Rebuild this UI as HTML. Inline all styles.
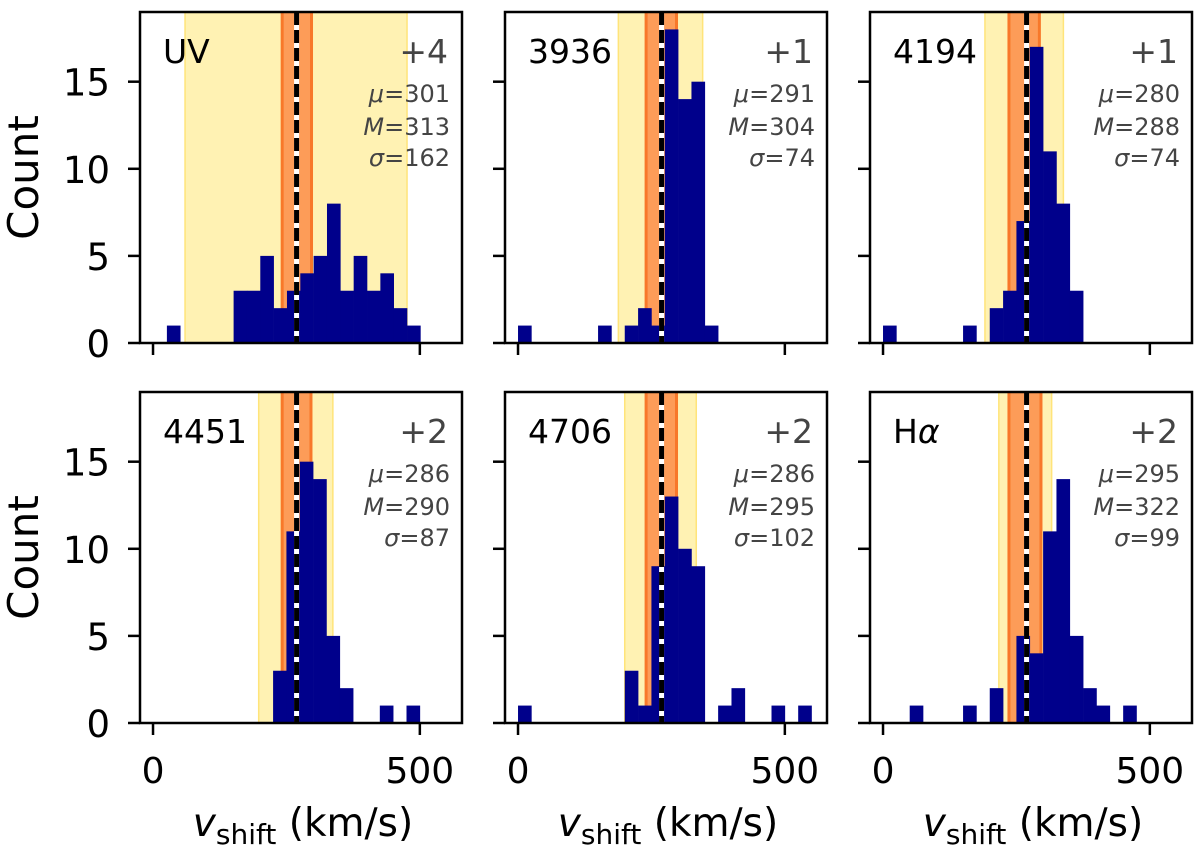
<!DOCTYPE html>
<html><head><meta charset="utf-8"><style>
html,body{margin:0;padding:0;background:#fff}
svg{display:block}
text{font-family:"DejaVu Sans","Liberation Sans",sans-serif}
</style></head><body>
<svg id="fig" width="1200" height="857" viewBox="0 0 1200 857" xmlns="http://www.w3.org/2000/svg"></svg>
<script>
// ---- data ----
const panelNames = ["UV","3936","4194","4451","4706","Hα"];
const offsets = ["+4","+1","+1","+2","+2","+2"];
const means = [301,291,280,286,286,295];
const medians = [313,304,288,290,295,322];
const sigmas = [162,74,74,87,102,99];
const binStarts = [26,0,0,0,0,0];
const binWidth = 25;
const countsUV   = [1,0,0,0,0,3,3,5,2,3,4,5,8,3,5,3,4,2,1];
const counts3936 = [1,0,0,0,0,0,1,0,1,2,1,18,14,15,1];
const counts4194 = [1,0,0,0,0,0,1,0,2,3,7,17,11,8,3];
const counts4451 = [0,0,0,0,0,0,0,0,0,3,11,15,14,5,2,0,0,1,0,1];
const counts4706 = [1,0,0,0,0,0,0,0,3,1,9,13,10,9,0,1,2,0,0,1,0,1];
const countsHa   = [0,0,1,0,0,0,1,0,2,0,5,4,11,14,5,2,1,0,1];
const yellowLo = [60,188,191,198,200,217];
const yellowHi = [476,346,338,337,334,316];
const orangeLo = [242,240,236,242,240,236];
const orangeHi = [297,297,293,296,297,296];
const refLine = 269;
const xTicks = [0,500];
const yTicks = [0,5,10,15];
const xMin = -24.4, xMax = 579, yMax = 19;

const allCounts = [countsUV,counts3936,counts4194,counts4451,counts4706,countsHa];
const NS = "http://www.w3.org/2000/svg";
const svg = document.getElementById('fig');
function mk(tag, attrs, parent){ const e=document.createElementNS(NS,tag); for(const k in attrs) e.setAttribute(k,attrs[k]); (parent||svg).appendChild(e); return e; }

const lefts = [140,505,870];
const tops = [12,392];
const W = 322, H = 331;

for(let p=0;p<6;p++){
  const col=p%3, row=Math.floor(p/3);
  const L=lefts[col], T=tops[row];
  const sx = v => L + (v - xMin)/(xMax-xMin)*W;
  const sy = c => T + H - c/yMax*H;
  const g = mk('g',{});
  
  
  // yellow band
  const yb = mk('rect',{x:sx(yellowLo[p]),y:T,width:sx(yellowHi[p])-sx(yellowLo[p]),height:H,fill:'#fff2b3',stroke:'#ffe47a','stroke-width':1.5},g);
  
  
  // orange band
  const ob = mk('rect',{x:sx(orangeLo[p]),y:T,width:sx(orangeHi[p])-sx(orangeLo[p]),height:H,fill:'#fd9c58'},g);
  
  
  [orangeLo[p],orangeHi[p]].forEach(v=>{
    const e = mk('line',{x1:sx(v),x2:sx(v),y1:T,y2:T+H,stroke:'#f8782a','stroke-width':3},g);
    
    
  });
  // bars
  const cs = allCounts[p];
  for(let i=0;i<cs.length;i++){
    if(!cs[i]) continue;
    const x0=sx(binStarts[p]+i*binWidth), x1=sx(binStarts[p]+(i+1)*binWidth);
    const b = mk('rect',{x:x0,y:sy(cs[i]),width:x1-x0+0.3,height:sy(0)-sy(cs[i]),fill:'#00008b'},g);
    
    
  }
  // reference dashed line
  const rx=sx(refLine);
  const rw = mk('line',{x1:rx,x2:rx,y1:T,y2:T+H,stroke:'#fff','stroke-width':5},g);
  
  
  const rl = mk('line',{x1:rx,x2:rx,y1:T,y2:T+H,stroke:'#000','stroke-width':5,'stroke-dasharray':'13 5'},g);
  
  
  // frame
  const fr = mk('rect',{x:L,y:T,width:W,height:H,fill:'none',stroke:'#000','stroke-width':2.5},g);
  
  
  // ticks
  xTicks.forEach(v=>{
    const t = mk('line',{x1:sx(v),x2:sx(v),y1:T+H,y2:T+H+12,stroke:'#000','stroke-width':2.5},g);
    
    
    if(row===1){
      const tl = mk('text',{x:sx(v),y:T+H+60,'font-size':36,'text-anchor':'middle',fill:'#000'},g);
      tl.textContent=v;
      
      
    }
  });
  yTicks.forEach(v=>{
    const t = mk('line',{x1:L-12,x2:L,y1:sy(v),y2:sy(v),stroke:'#000','stroke-width':2.5},g);
    
    
    if(col===0){
      const tl = mk('text',{x:L-30,y:sy(v)+14,'font-size':37,'text-anchor':'end',fill:'#000'},g);
      tl.textContent=v;
      
      
    }
  });
  // panel text
  const lab = mk('text',{x:L+23,y:T+51,'font-size':33,fill:'#000'},g);
  if(panelNames[p]==='Hα'){ lab.innerHTML='H<tspan font-style="italic">α</tspan>'; } else lab.textContent=panelNames[p];
  
  
  const off = mk('text',{x:L+W-14,y:T+51,'font-size':33,'text-anchor':'end',fill:'#444'},g);
  off.textContent=offsets[p];
  
  
  const stats=[['μ',means[p],90],['M',medians[p],123],['σ',sigmas[p],154]];
  stats.forEach(s=>{
    const st = mk('text',{x:L+W-12,y:T+s[2],'font-size':24,'text-anchor':'end',fill:'#444'},g);
    st.innerHTML='<tspan font-style="italic">'+s[0]+'</tspan>='+s[1];
    
    
  });
  if(row===1){
    const xl = mk('text',{x:L+W/2+2,y:836,'font-size':39,'text-anchor':'middle',fill:'#000'},g);
    xl.innerHTML='<tspan font-style="italic">v</tspan><tspan font-size="28" dy="8">shift</tspan><tspan dy="-8"> (km/s)</tspan>';
    
    
  }
  if(col===0){
    const cy=T+H/2;
    const yl = mk('text',{x:38,y:cy,'font-size':42,'text-anchor':'middle',fill:'#000',transform:'rotate(-90 38 '+cy+')'},g);
    yl.textContent='Count';
    
    
  }
}
</script>
</body></html>
